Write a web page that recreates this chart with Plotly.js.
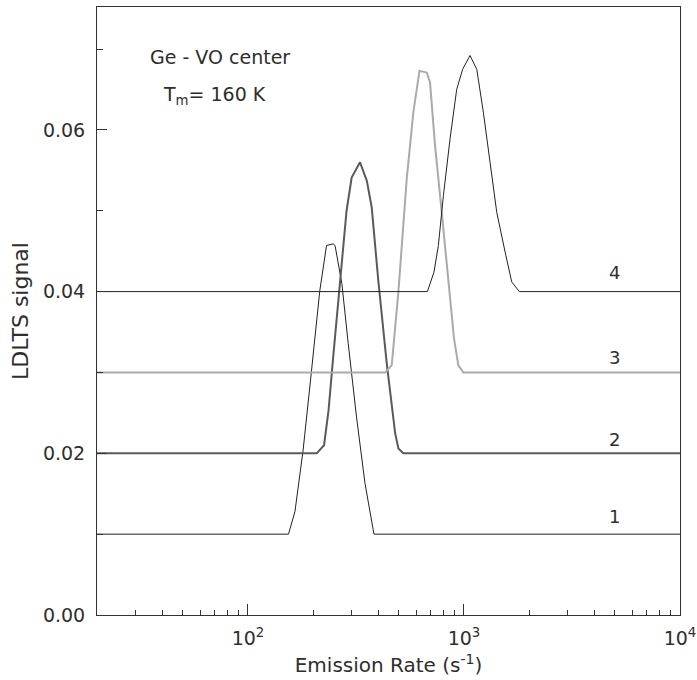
<!DOCTYPE html>
<html>
<head>
<meta charset="utf-8">
<script src="https://cdn.plot.ly/plotly-3.0.1.min.js"></script>
<style>html,body{margin:0;padding:0;background:#fff;}</style>
</head>
<body>
<div id="chart" style="width:697px;height:680px;"></div>
<script>
// Emission rate (s^-1) and LDLTS signal for the four spectra
const rate1 = [20, 154, 165, 180, 197, 215, 231, 248, 253, 272, 291, 318, 348, 374, 383, 10000];
const sig1  = [0.010, 0.010, 0.0128, 0.0204, 0.0303, 0.0401, 0.0457, 0.0459, 0.0457, 0.0410, 0.0336, 0.0245, 0.0163, 0.0113, 0.010, 0.010];

const rate2 = [20, 208, 225, 236, 248, 267, 286, 302, 330, 355, 374, 401, 439, 480, 497, 524, 10000];
const sig2  = [0.020, 0.020, 0.0210, 0.0253, 0.0319, 0.0410, 0.0500, 0.0541, 0.0560, 0.0537, 0.0504, 0.0414, 0.0311, 0.0225, 0.0206, 0.020, 0.020];

const rate3 = [20, 432, 463, 497, 543, 583, 622, 672, 696, 735, 789, 846, 899, 941, 993, 10000];
const sig3  = [0.030, 0.030, 0.0309, 0.0400, 0.0539, 0.0622, 0.0673, 0.0671, 0.0659, 0.0580, 0.0498, 0.0416, 0.0342, 0.0309, 0.030, 0.030];

const rate4 = [20, 677, 726, 761, 803, 862, 925, 986, 1066, 1146, 1229, 1319, 1418, 1550, 1663, 1804, 10000];
const sig4  = [0.040, 0.040, 0.0424, 0.0457, 0.0519, 0.0589, 0.0650, 0.0675, 0.0692, 0.0675, 0.0622, 0.0560, 0.0498, 0.0449, 0.0412, 0.040, 0.040];

const curveLabels = ["1", "2", "3", "4"];
const xTickVals = [100, 1000, 10000];
const xTickText = ["10<sup>2</sup>", "10<sup>3</sup>", "10<sup>4</sup>"];
const xMinorVals = [30, 40, 50, 60, 70, 80, 90, 200, 300, 400, 500, 600, 700, 800, 900, 2000, 3000, 4000, 5000, 6000, 7000, 8000, 9000];
const yTickVals = [0, 0.02, 0.04, 0.06];
const yTickText = ["0.00", "0.02", "0.04", "0.06"];

const FONT = "DejaVu Sans";
const TXT = "#2e2e2e";

const traces = [
  {x: rate1, y: sig1, mode: "lines", line: {color: "#222", width: 1}, name: curveLabels[0]},
  {x: rate2, y: sig2, mode: "lines", line: {color: "#5a5a5a", width: 2}, name: curveLabels[1]},
  {x: rate3, y: sig3, mode: "lines", line: {color: "#aaaaaa", width: 2}, name: curveLabels[2]},
  {x: rate4, y: sig4, mode: "lines", line: {color: "#222", width: 1}, name: curveLabels[3]}
];

const labelPos = [
  {x: 0.8885, y: 0.1626},
  {x: 0.8885, y: 0.289},
  {x: 0.8885, y: 0.4236},
  {x: 0.8885, y: 0.5632}
];

const annotations = curveLabels.map((t, i) => ({
  text: t, xref: "paper", yref: "paper", x: labelPos[i].x, y: labelPos[i].y,
  xanchor: "center", yanchor: "middle", showarrow: false,
  font: {family: FONT, size: 18, color: TXT}
}));
annotations.push({
  text: "Ge - VO center", xref: "paper", yref: "paper", x: 0.2118, y: 0.918,
  xanchor: "center", yanchor: "middle", showarrow: false,
  font: {family: FONT, size: 19, color: TXT}
});
annotations.push({
  text: "T<sub>m</sub>= 160 K", xref: "paper", yref: "paper", x: 0.2015, y: 0.855,
  xanchor: "center", yanchor: "middle", showarrow: false,
  font: {family: FONT, size: 19, color: TXT}
});

const layout = {
  width: 697, height: 680,
  margin: {l: 97, r: 17, t: 7, b: 65},
  paper_bgcolor: "#fff", plot_bgcolor: "#fff",
  showlegend: false,
  font: {family: FONT, color: TXT, size: 19},
  xaxis: {
    type: "log", range: [Math.log10(20), 4],
    tickmode: "array", tickvals: xTickVals, ticktext: xTickText,
    ticks: "inside", ticklen: 11, tickwidth: 1, tickcolor: "#333",
    minor: {tickmode: "array", tickvals: xMinorVals, ticks: "inside", ticklen: 5, tickwidth: 1, tickcolor: "#333"},
    showline: true, linecolor: "#333", linewidth: 1, mirror: true,
    showgrid: false, zeroline: false,
    tickfont: {family: FONT, size: 19, color: TXT},
    ticklabelstandoff: 6,
    title: {text: "Emission Rate (s<sup>-1</sup>)", font: {family: FONT, size: 20, color: TXT}, standoff: 10}
  },
  yaxis: {
    range: [0, 0.0752],
    tickmode: "array", tickvals: yTickVals, ticktext: yTickText,
    ticks: "inside", ticklen: 10, tickwidth: 1, tickcolor: "#333",
    minor: {dtick: 0.01, tick0: 0, ticks: "inside", ticklen: 6, tickwidth: 1, tickcolor: "#333"},
    showline: true, linecolor: "#333", linewidth: 1, mirror: true,
    showgrid: false, zeroline: false,
    tickfont: {family: FONT, size: 19, color: TXT},
    ticklabelstandoff: 7,
    title: {text: "LDLTS signal", font: {family: FONT, size: 22, color: TXT}, standoff: 8}
  },
  annotations: annotations
};

Plotly.newPlot("chart", traces, layout, {displayModeBar: false, staticPlot: true});
</script>
</body>
</html>
